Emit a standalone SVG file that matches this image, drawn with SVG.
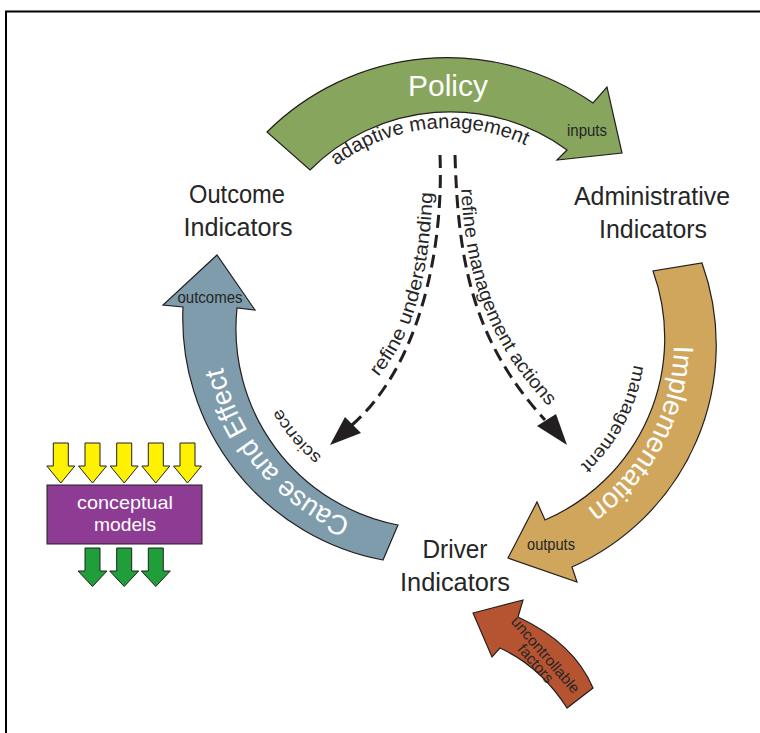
<svg xmlns="http://www.w3.org/2000/svg" width="760" height="733" viewBox="0 0 760 733">
<defs>
<style>
.band{stroke:#231f20;stroke-width:1.2;stroke-linejoin:miter}
.lbl{font-family:"Liberation Sans",Arial,sans-serif;fill:#262626}
.node{font-size:25px;text-anchor:middle}
.wh{fill:#ffffff}
.sm{font-size:16px}
.dash{fill:none;stroke:#231f20;stroke-width:3;stroke-dasharray:13 7}
.head{fill:#231f20}
.ya{fill:#fff200;stroke:#231f20;stroke-width:1}
.ga{fill:#1f9e3a;stroke:#231f20;stroke-width:1}
</style>
<path id="ydown" d="M-7.5,0 H7.5 V23 H14 L0,40 L-14,23 H-7.5 Z"/>
<path id="gdown" d="M-7.5,0 H7.5 V23 H14.5 L0,38.5 L-14.5,23 H-7.5 Z"/>
<path id="p-adaptive" d="M317.9,181.9 A184,184 0 0 1 547.1,157"/>
<path id="p-cause" d="M398.5,533.4 A214,214 0 0 1 218,318.3"/>
<path id="p-science" d="M372.5,485.5 A174,174 0 0 1 260.6,353.2"/>
<path id="p-impl" d="M669.5,299.6 A204,204 0 0 1 546.4,531.1"/>
<path id="p-mgmt" d="M632.3,307.6 A168,168 0 0 1 532.2,495.8"/>
<path id="p-refu" d="M370,386 C408,346 430,290 433,180"/>
<path id="p-refm" d="M461,178 C463,280 492,350 556,414"/>
</defs>
<rect width="760" height="733" fill="#ffffff"/>
<path d="M6,733 V11.5 H760" fill="none" stroke="#000" stroke-width="2"/>

<g id="connectors">
  <g id="policy-arrow">
    <path class="band" fill="#87a55d" d="M267,132 A256,256 0 0 1 593,103 L607,87 L622,153 L557,160 L567,150 A198,198 0 0 0 310,170 Z"/>
    <text class="lbl wh" x="448" y="96" font-size="30" text-anchor="middle" textLength="80" lengthAdjust="spacingAndGlyphs">Policy</text>
    <text class="lbl" font-size="20" text-anchor="middle"><textPath href="#p-adaptive" startOffset="50%" textLength="200" lengthAdjust="spacingAndGlyphs">adaptive management</textPath></text>
    <text class="lbl sm" x="587" y="136" text-anchor="middle" textLength="40" lengthAdjust="spacingAndGlyphs">inputs</text>
  </g>
  <g id="implementation-arrow">
    <path class="band" fill="#d0a65c" d="M702,263 A243,243 0 0 1 572,567 L577,582 L508,558 L537,502 L545,520 A198,198 0 0 0 653,271 Z"/>
    <text class="lbl wh" font-size="28" text-anchor="middle"><textPath href="#p-impl" startOffset="50%" textLength="192" lengthAdjust="spacingAndGlyphs">Implementation</textPath></text>
    <text class="lbl" font-size="18" text-anchor="middle"><textPath href="#p-mgmt" startOffset="50%" textLength="116" lengthAdjust="spacingAndGlyphs">management</textPath></text>
    <text class="lbl sm" x="551" y="550" text-anchor="middle" textLength="48" lengthAdjust="spacingAndGlyphs">outputs</text>
  </g>
  <g id="cause-effect-arrow">
    <path class="band" fill="#7e9cac" d="M383,560 A246,246 0 0 1 183,307 L163,305 L217,255 L255,310 L237,308 A200,200 0 0 0 398,525 Z"/>
    <text class="lbl wh" font-size="28" text-anchor="middle"><textPath href="#p-cause" startOffset="50%" textLength="207" lengthAdjust="spacingAndGlyphs">Cause and Effect</textPath></text>
    <text class="lbl" font-size="17" text-anchor="middle"><textPath href="#p-science" startOffset="50%" textLength="64" lengthAdjust="spacingAndGlyphs">science</textPath></text>
    <text class="lbl sm" x="210" y="303" text-anchor="middle" textLength="65" lengthAdjust="spacingAndGlyphs">outcomes</text>
  </g>
  <g id="refine-understanding">
    <path class="dash" d="M440,155 C444,260 415,370 352,425"/>
    <polygon class="head" points="345,417 361,433 330,445"/>
    <text class="lbl" font-size="19" text-anchor="middle"><textPath href="#p-refu" startOffset="50%" textLength="196" lengthAdjust="spacingAndGlyphs">refine understanding</textPath></text>
  </g>
  <g id="refine-management">
    <path class="dash" d="M455,155 C458,260 472,340 545,420"/>
    <polygon class="head" points="537,426 556,414 567,445"/>
    <text class="lbl" font-size="19" text-anchor="middle"><textPath href="#p-refm" startOffset="50%" textLength="240" lengthAdjust="spacingAndGlyphs">refine management actions</textPath></text>
  </g>
  <g id="uncontrollable-arrow">
    <path class="band" fill="#b65432" d="M473,613 L523,600 L518,617 Q574,643 593,688 L567,708 Q541,667 500,648 L492,657 Z"/>
    <g transform="translate(541,659) rotate(49)">
      <text class="lbl" x="0" y="-1" font-size="15" text-anchor="middle" textLength="96" lengthAdjust="spacingAndGlyphs">uncontrollable</text>
      <text class="lbl" x="0" y="12" font-size="15" text-anchor="middle" textLength="46" lengthAdjust="spacingAndGlyphs">factors</text>
    </g>
  </g>
</g>

<g id="outcome-indicators">
  <text class="lbl node" x="237" y="203" textLength="96" lengthAdjust="spacingAndGlyphs">Outcome</text>
  <text class="lbl node" x="238" y="236" textLength="109" lengthAdjust="spacingAndGlyphs">Indicators</text>
</g>
<g id="administrative-indicators">
  <text class="lbl node" x="652" y="205" textLength="156" lengthAdjust="spacingAndGlyphs">Administrative</text>
  <text class="lbl node" x="653" y="238" textLength="108" lengthAdjust="spacingAndGlyphs">Indicators</text>
</g>
<g id="driver-indicators">
  <text class="lbl node" x="455" y="558" textLength="65" lengthAdjust="spacingAndGlyphs">Driver</text>
  <text class="lbl node" x="455" y="591" textLength="110" lengthAdjust="spacingAndGlyphs">Indicators</text>
</g>
<g id="conceptual-models">
  <use href="#ydown" class="ya" x="60.8" y="443"/>
  <use href="#ydown" class="ya" x="92.5" y="443"/>
  <use href="#ydown" class="ya" x="124.2" y="443"/>
  <use href="#ydown" class="ya" x="155.8" y="443"/>
  <use href="#ydown" class="ya" x="187.5" y="443"/>
  <rect x="47" y="485" width="155" height="59" fill="#8e3b93" stroke="#231f20" stroke-width="1"/>
  <text class="lbl wh" x="125" y="509" font-size="19" text-anchor="middle" textLength="96" lengthAdjust="spacingAndGlyphs">conceptual</text>
  <text class="lbl wh" x="125" y="531" font-size="19" text-anchor="middle" textLength="62" lengthAdjust="spacingAndGlyphs">models</text>
  <use href="#gdown" class="ga" x="92.5" y="548"/>
  <use href="#gdown" class="ga" x="124.2" y="548"/>
  <use href="#gdown" class="ga" x="155.8" y="548"/>
</g>
</svg>
